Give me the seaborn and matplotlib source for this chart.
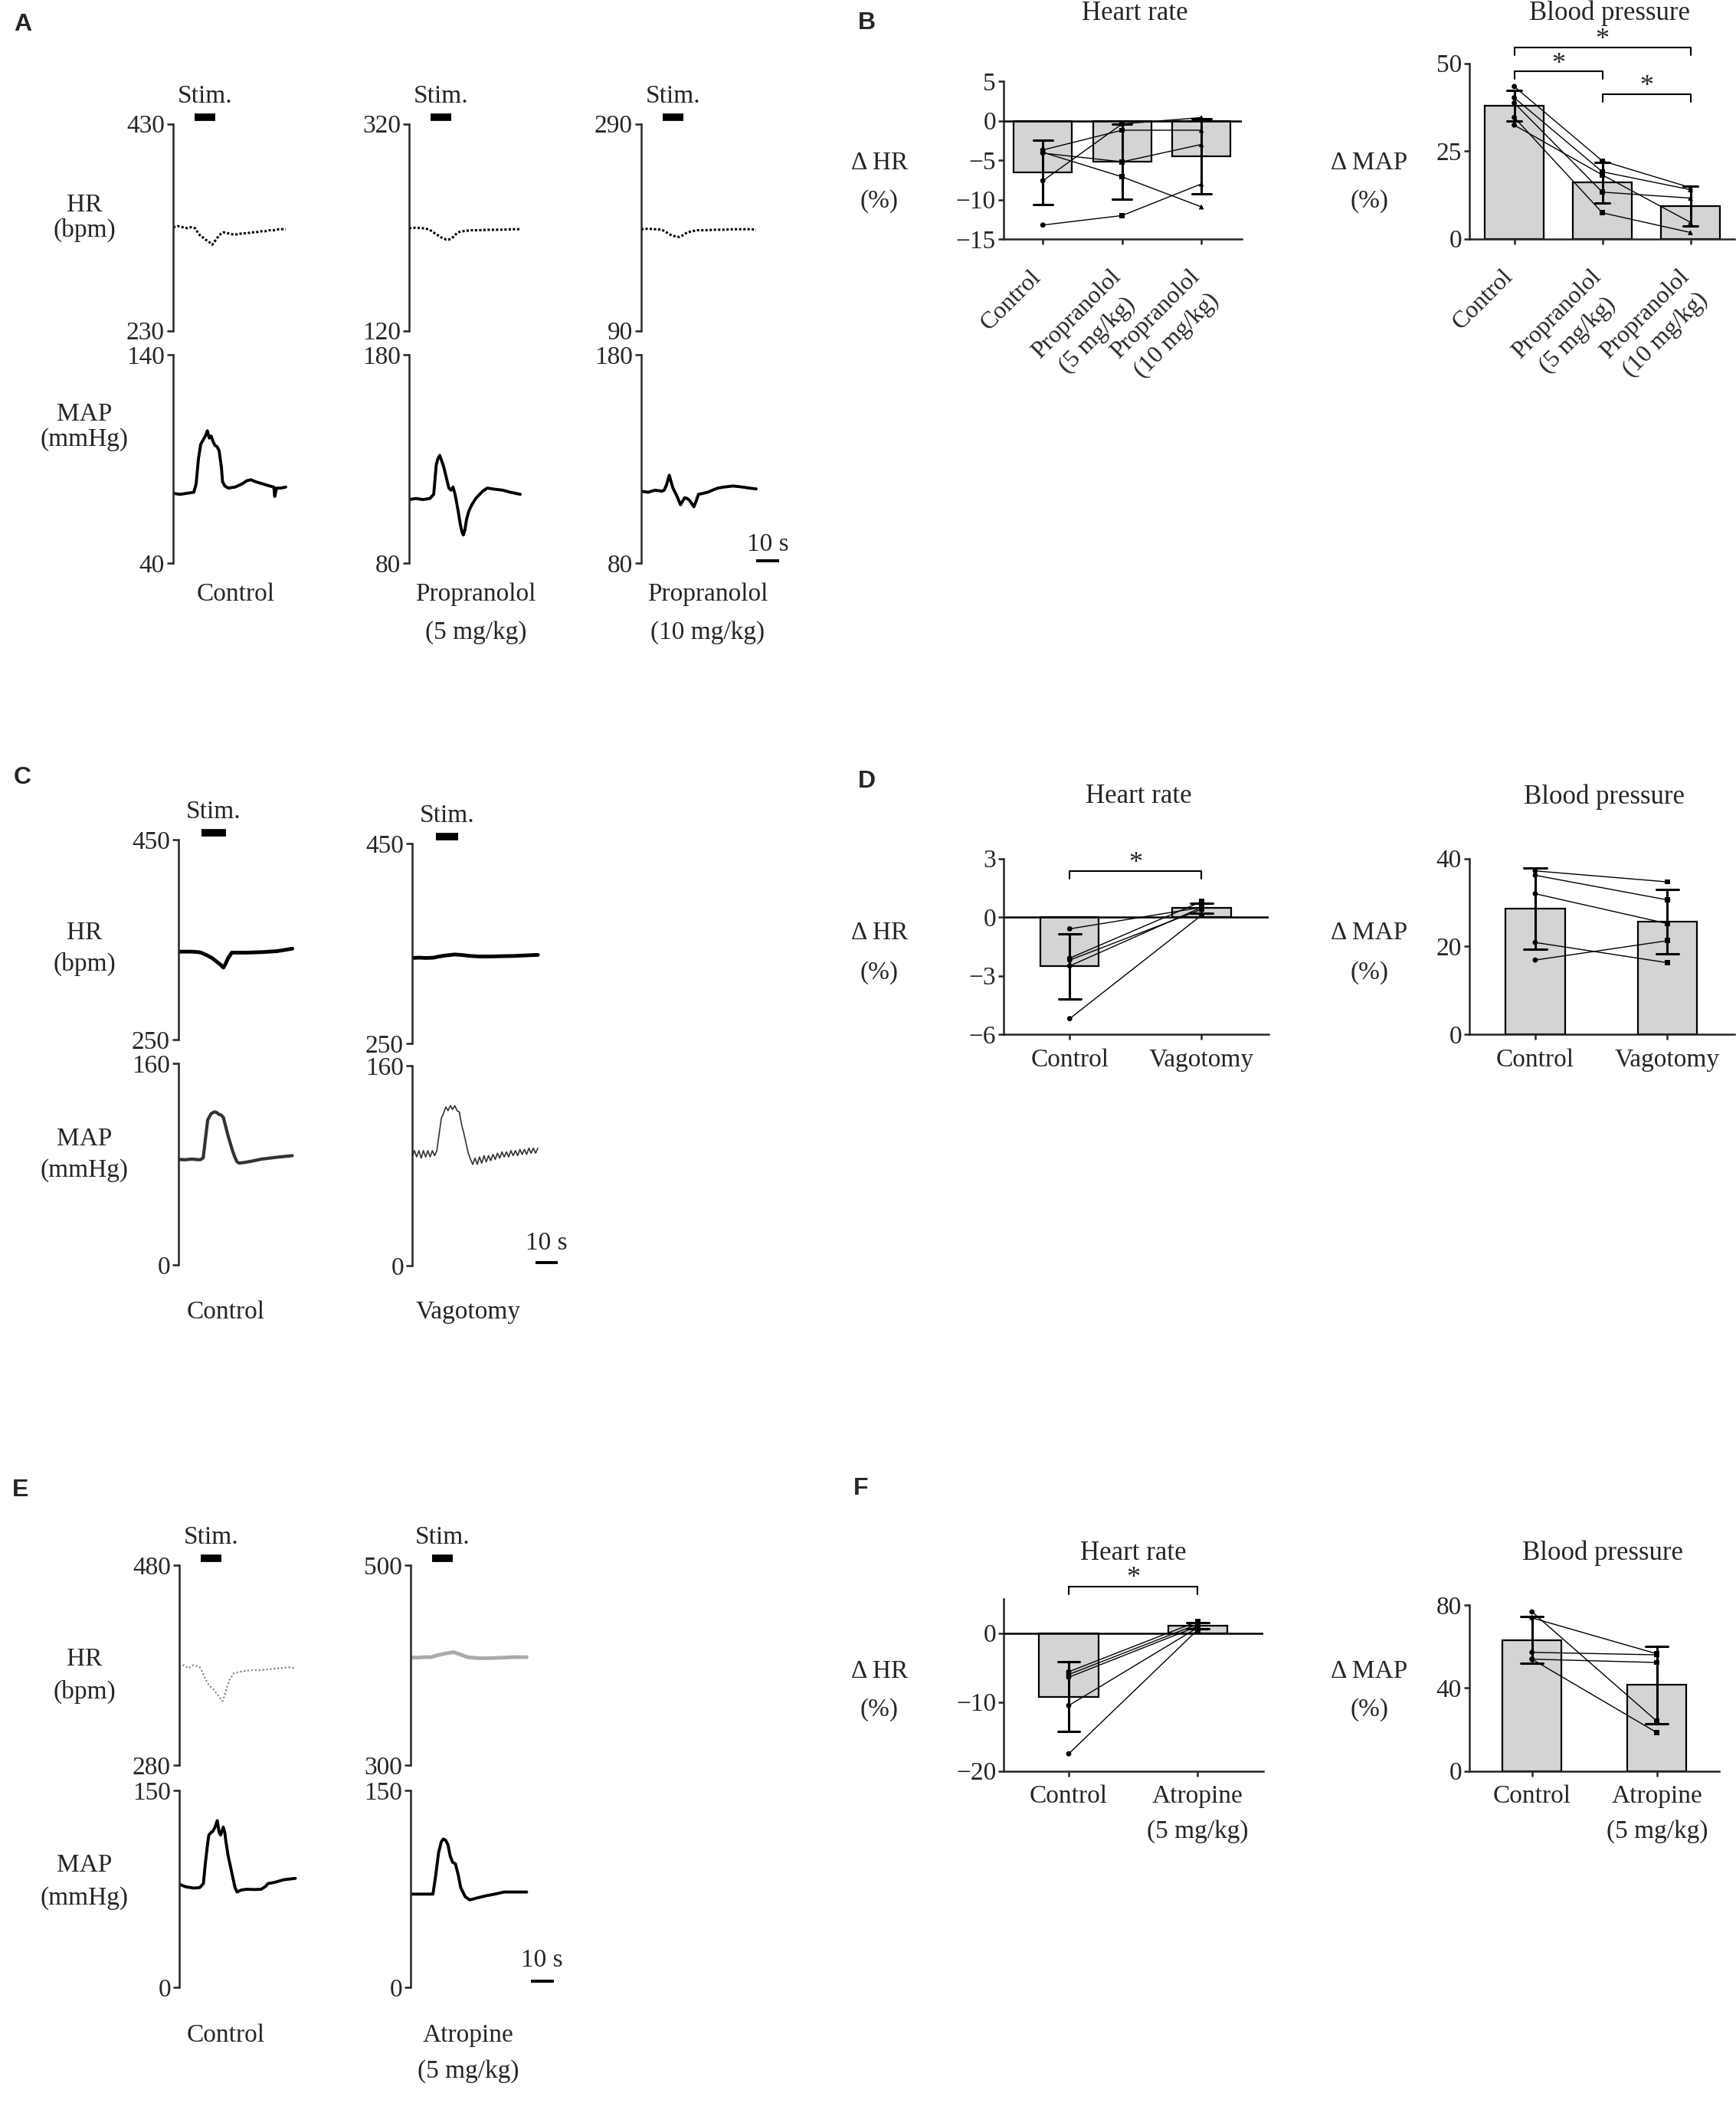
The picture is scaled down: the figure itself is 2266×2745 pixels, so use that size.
import matplotlib
matplotlib.use("Agg")
import matplotlib.pyplot as plt
import seaborn as sns
import pandas as pd

W, H = 2266, 2745

# ---------------- trace data (time in s) ----------------
# A: control
A_CTRL_HR_T = [0, 2, 4, 6, 8, 9.5, 11, 12, 13, 14, 15, 16, 17, 18, 19, 20, 21, 22, 24, 26, 28,
               30, 32, 34, 36, 38, 40, 42, 44, 46, 48, 49]
A_CTRL_HR = [330, 331, 330, 329, 330, 329, 324, 321, 320, 318, 317, 315, 313, 316, 319, 322, 324,
             325, 324, 323, 323, 324, 324, 325, 325, 326, 326, 327, 327, 328, 328, 328]
A_CTRL_MAP_T = [0, 3, 6, 9, 10, 11, 12, 13, 14, 14.9, 15.7, 16.5, 17.5, 18.2, 19, 20, 21, 21.5,
                22.5, 24, 27, 30, 32, 33.8, 36, 39, 42, 43.8, 44.2, 45, 47, 49]
A_CTRL_MAP = [73.5, 73, 73.5, 74, 78, 90, 97, 99, 101, 103.5, 100, 101, 98, 96.5, 96, 94, 86, 79,
              77, 76, 76.5, 78, 79.5, 80, 79, 78, 77, 76.5, 72, 76, 76, 76.5]
# A: propranolol 5 mg/kg
A_P5_HR_T = [0, 3, 6, 8.4, 10, 11.8, 13, 14, 15, 16.2, 17.3, 18.4, 19.5, 20.7, 22, 23, 25, 27, 30,
             35, 40, 45, 48.4]
A_P5_HR = [219, 219.5, 219, 218, 216, 213, 211.5, 210, 209, 208, 208, 209, 211, 214, 215.5, 216,
           216.5, 217, 217, 217.5, 217.5, 218, 218]
A_P5_MAP_T = [0, 3, 6, 9, 10.7, 11.8, 12.5, 13.3, 14.2, 15.1, 16.2, 17.3, 18.2, 19.1, 20, 20.7,
              21.5, 22.2, 23, 23.6, 24.3, 25, 26, 27.3, 29, 30.7, 32, 34, 37, 40.7, 44, 48.4]
A_P5_MAP = [110.5, 111, 110.5, 111, 113, 127, 130, 131.7, 129, 126, 121, 116, 115, 116.5, 113, 109,
            104, 99, 95, 93.5, 96, 101, 105, 108, 111, 113, 114.5, 116, 115.5, 115, 114, 113]
# A: propranolol 10 mg/kg
A_P10_HR_T = [0, 3, 6, 9, 11, 12, 13.3, 15, 16.7, 18, 20, 22, 24.4, 28, 32, 36, 40, 44, 48, 50]
A_P10_HR = [188, 188.5, 188, 187.5, 185, 183.5, 182, 181, 180.5, 182, 185, 186, 187, 187, 187.5,
            187.5, 188, 188, 188, 187.5]
A_P10_MAP_T = [0, 3, 6, 9, 10, 11, 12.2, 13, 13.8, 15.6, 17.1, 18.9, 20, 21.1, 22, 22.9, 24, 24.9,
               27, 28.9, 31, 33.3, 36, 40, 44, 47, 50]
A_P10_MAP = [114.5, 114, 115, 114.5, 115, 117.5, 122.2, 119, 116, 112, 108, 111.4, 111, 110, 108.5,
             107, 110, 113, 113.5, 114, 115, 116, 116.5, 117, 116.5, 116, 115.6]

# C: control and vagotomy
C_CTRL_HR_T = [0, 3, 6, 9, 10, 11, 13, 15, 17, 18.7, 20, 21, 22, 23.7, 26, 30, 37, 44, 50.7]
C_CTRL_HR = [338, 338, 338, 337.5, 337, 336, 334, 331.5, 328, 325, 322, 326, 331, 337, 337, 337,
             337.5, 338.5, 341]
C_CTRL_MAP_T = [0, 3, 6, 9, 10, 11, 12, 13, 14.5, 16, 17, 18, 19, 20, 21, 22, 23, 24, 25, 26, 27,
                30, 33, 37, 44, 50.7]
C_CTRL_MAP = [83.7, 83.5, 84, 83.5, 83.7, 85, 100, 115, 120, 121.5, 121, 119.5, 119, 117, 110, 103,
              97, 91, 86, 82, 80.8, 81.5, 82.5, 84, 85.5, 86.7]
C_VAG_HR_T = [0, 3, 6, 9, 10, 12, 15, 19, 22, 26, 30, 35, 40, 45, 50, 56]
C_VAG_HR = [335.5, 335.8, 335.5, 335.7, 336, 337, 338, 339, 338.5, 337.5, 337, 337, 337.3, 337.5,
            338, 338.6]
C_VAG_MAP_T = list(range(57))
C_VAG_MAP = [87, 92, 87, 92, 86, 92, 87, 92, 87, 92, 88, 92, 105, 118, 122, 127, 124, 128, 125,
             128, 124, 123, 113, 106, 98, 90, 85, 81, 86, 81, 87, 82, 88, 83, 88, 84, 89, 85, 90,
             86, 91, 87, 91, 87, 92, 88, 92, 88, 93, 89, 93, 89, 94, 90, 94, 90, 94]

# E: control and atropine
E_CTRL_HR_T = [0, 2, 4, 6, 8, 9, 10, 11.5, 13, 14, 15, 16, 17, 18, 19, 20, 21, 22, 24, 26, 28,
               32, 36, 40, 44, 48, 51]
E_CTRL_HR = [378, 380, 377, 380, 379, 378, 374, 366, 360, 358, 356, 353, 350, 347, 344, 350, 358,
             365, 372, 373, 374, 375, 375, 376, 377, 378, 377]
E_CTRL_MAP_T = [0, 3, 6.5, 9, 10.6, 11.5, 12.5, 13, 14, 14.8, 15.7, 16.7, 17.5, 18.2, 19.3, 20,
                20.5, 21.5, 23, 24.5, 25.4, 27, 29.5, 33, 36, 38, 39, 42, 46, 51]
E_CTRL_MAP = [78.5, 76.5, 75.6, 76, 79, 95, 110, 116, 118, 119, 122, 127, 118, 116, 122, 118, 111,
              100, 88, 76, 72.6, 74, 74.7, 74.5, 74.7, 77, 79, 80, 82, 83]
E_ATR_HR_T = [0, 3, 6, 9, 12, 16, 19, 22, 25, 30, 35, 40, 45, 51]
E_ATR_HR = [407.8, 407.5, 408, 408, 410, 412, 413, 410.5, 408, 407, 407, 407.5, 408, 408]
E_ATR_MAP_T = [0, 5, 9.8, 11, 12.3, 13.5, 14.4, 15.4, 16.4, 17.4, 18.4, 19.7, 21, 22, 24, 26, 29,
               33, 37, 41, 46, 51]
E_ATR_MAP = [71, 71, 71, 85, 102.8, 111, 113, 112, 108.7, 100, 95.4, 94, 85, 76, 69, 66.6, 68,
             69.7, 71, 72.6, 72.6, 72.6]

# ---------------- summary data (% change per animal) ----------------
B_GROUPS = ["Control", "Propranolol 5", "Propranolol 10"]
B_LABELS = ["Control", "Propranolol\n(5 mg/kg)", "Propranolol\n(10 mg/kg)"]
B_HR_CTRL = [-13.2, -7.6, -3.7, -4.1, -4.0]
B_HR_P5 = [-12.0, -0.4, -1.2, -5.2, -7.1]
B_HR_P10 = [-8.0, 0.4, -1.2, -3.0, -10.9]
B_MAP_CTRL = [43.4, 40.2, 38.7, 34.6, 32.4]
B_MAP_P5 = [22.2, 19.1, 13.3, 7.4, 18.2]
B_MAP_P10 = [14.6, 14.0, 11.6, 1.8, 4.7]

D_GROUPS = ["Control", "Vagotomy"]
D_HR_CTRL = [-0.6, -2.1, -2.2, -2.5, -5.2]
D_HR_VAG = [0.5, 0.8, 0.4, 0.5, 0.1]
D_MAP_CTRL = [37.2, 36.2, 32.0, 20.9, 16.9]
D_MAP_VAG = [34.7, 30.6, 25.2, 16.3, 21.3]

F_GROUPS = ["Control", "Atropine"]
F_LABELS = ["Control", "Atropine\n(5 mg/kg)"]
F_HR_CTRL = [-5.6, -6.0, -6.4, -10.5, -17.5]
F_HR_ATR = [1.7, 1.3, 1.0, 0.8, 0.5]
F_MAP_CTRL = [76.7, 73.8, 57.2, 53.9, 53.9]
F_MAP_ATR = [24.0, 56.5, 56.0, 52.3, 18.5]

FS = 24  # main text size

sns.set_style("ticks")
plt.rcParams["font.family"] = ["Liberation Serif", "DejaVu Serif"]
plt.rcParams["font.size"] = FS
plt.rcParams["axes.linewidth"] = 1.8
plt.rcParams["xtick.major.width"] = 1.8
plt.rcParams["ytick.major.width"] = 1.8

fig = plt.figure(figsize=(W / 100, H / 100), dpi=100)


def px_axes(x0, y0, x1, y1):
    return fig.add_axes([x0 / W, 1 - y1 / H, (x1 - x0) / W, (y1 - y0) / H])


def ftext(x, y, s, **kw):
    kw.setdefault("fontsize", FS)
    fig.text(x / W, 1 - y / H, s, ha="center", va="center", **kw)


def letter(x, y, s):
    fig.text(x / W, 1 - y / H, s, ha="center", va="center", fontsize=23,
             fontweight="bold", family="Liberation Sans")


def trace_ax(x, y0, y1, lo, hi, pps, stim=None):
    ax = px_axes(x, y0, x + 60 * pps, y1)
    ax.set_xlim(0, 60)
    ax.set_ylim(lo, hi)
    sns.despine(ax=ax, bottom=True)
    ax.set_xticks([])
    ax.set_yticks([lo, hi])
    ax.tick_params(axis="y", length=6, labelsize=FS, pad=2)
    ax.patch.set_alpha(0)
    if stim is not None:
        hpx = y1 - y0
        tr = ax.get_xaxis_transform()
        ax.plot(stim, [1 + 9 / hpx] * 2, transform=tr, color="black", lw=7,
                solid_capstyle="butt", clip_on=False)
        ax.text(sum(stim) / 2, 1 + 36 / hpx, "Stim.", transform=tr, ha="center",
                va="center", fontsize=FS)
    return ax


def trace(ax, t, v, **kw):
    sns.lineplot(x=t, y=v, ax=ax, estimator=None, sort=False, legend=False, **kw)
    ax.set_xlabel("")
    ax.set_ylabel("")


def scale_bar(ax, x0, y_bar, y_txt):
    ax.plot([x0, x0 + 10], [y_bar, y_bar], color="black", lw=2.8, clip_on=False,
            solid_capstyle="butt")
    ax.text(x0 + 5, y_txt, "10 s", ha="center", va="center", fontsize=FS)


# ---------------- panel A ----------------
letter(30, 32, "A")
A_HR_Y, A_MAP_Y = (161.5, 431.5), (463, 735)
for x, t_hr, hr, t_map, mp, hrlim, maplim in [
        (226, A_CTRL_HR_T, A_CTRL_HR, A_CTRL_MAP_T, A_CTRL_MAP, (230, 430), (40, 140)),
        (534, A_P5_HR_T, A_P5_HR, A_P5_MAP_T, A_P5_MAP, (120, 320), (80, 180)),
        (837, A_P10_HR_T, A_P10_HR, A_P10_MAP_T, A_P10_MAP, (90, 290), (80, 180))]:
    ax = trace_ax(x, *A_HR_Y, *hrlim, 3.0, stim=(9.3, 18.3))
    trace(ax, t_hr, hr, color="black", lw=2.2, linestyle=(0, (1, 0.8)))
    axm = trace_ax(x, *A_MAP_Y, *maplim, 3.0)
    trace(axm, t_map, mp, color="black", lw=2.8)
scale_bar(axm, 50, 81, 89)
ftext(110, 268, "HR")
ftext(110, 300, "(bpm)")
ftext(110, 541, "MAP")
ftext(110, 574, "(mmHg)")
ftext(308, 776, "Control")
ftext(621, 776, "Propranolol")
ftext(621, 826, "(5 mg/kg)")
ftext(924, 776, "Propranolol")
ftext(924, 826, "(10 mg/kg)")

# ---------------- panel C ----------------
letter(29, 1015, "C")
ax = trace_ax(233, 1096, 1357, 250, 450, 2.93, stim=(10.3, 21.0))
trace(ax, C_CTRL_HR_T, C_CTRL_HR, color="black", lw=3.5)
ax = trace_ax(233, 1388, 1651, 0, 160, 2.93)
trace(ax, C_CTRL_MAP_T, C_CTRL_MAP, color="#333333", lw=3)
ax = trace_ax(538, 1101, 1362, 250, 450, 2.93, stim=(10.5, 20.5))
trace(ax, C_VAG_HR_T, C_VAG_HR, color="black", lw=3.5)
ax = trace_ax(538, 1391, 1652, 0, 160, 2.93)
trace(ax, C_VAG_MAP_T, C_VAG_MAP, color="#333333", lw=1.2)
scale_bar(ax, 55, 2.5, 17.8)
ftext(110, 1218, "HR")
ftext(110, 1258, "(bpm)")
ftext(110, 1487, "MAP")
ftext(110, 1528, "(mmHg)")
ftext(295, 1713, "Control")
ftext(611, 1713, "Vagotomy")

# ---------------- panel E ----------------
letter(27, 1945, "E")
ax = trace_ax(234, 2043, 2304, 280, 480, 2.97, stim=(9.3, 18.5))
trace(ax, E_CTRL_HR_T, E_CTRL_HR, color="#888888", lw=1.6, linestyle=(0, (1, 1.2)))
ax = trace_ax(234, 2337, 2594, 0, 150, 2.97)
trace(ax, E_CTRL_MAP_T, E_CTRL_MAP, color="black", lw=2.8)
ax = trace_ax(536, 2043, 2304, 300, 500, 2.97, stim=(9.3, 18.4))
trace(ax, E_ATR_HR_T, E_ATR_HR, color="#aaaaaa", lw=3.5)
ax = trace_ax(536, 2337, 2594, 0, 150, 2.97)
trace(ax, E_ATR_MAP_T, E_ATR_MAP, color="black", lw=2.8)
scale_bar(ax, 52.8, 4.7, 20.4)
ftext(110, 2166, "HR")
ftext(110, 2208, "(bpm)")
ftext(110, 2435, "MAP")
ftext(110, 2478, "(mmHg)")
ftext(295, 2657, "Control")
ftext(611, 2657, "Atropine")
ftext(611, 2704, "(5 mg/kg)")


# ---------------- bar panels ----------------
MARKERS = {"Control": "o", "Propranolol 5": "s", "Propranolol 10": "^",
           "Vagotomy": "s", "Atropine": "s"}


def bar_panel(box, groups, labels, values, width, capsize, ylim, yticks, xlim,
              rotate=False, zero=False):
    ax = px_axes(*box)
    rows = []
    for gi, (g, vals) in enumerate(zip(groups, values)):
        for si, v in enumerate(vals):
            rows.append({"group": g, "pos": gi, "subject": si, "value": v})
    df = pd.DataFrame(rows)
    sns.barplot(data=df, x="group", y="value", order=groups, errorbar="sd", width=width,
                capsize=capsize, color="#d4d4d4", saturation=1, edgecolor="black",
                linewidth=1.6, err_kws={"color": "black", "linewidth": 2.2}, ax=ax)
    sns.lineplot(data=df, x="pos", y="value", units="subject", estimator=None, sort=False,
                 color="black", lw=1.0, legend=False, ax=ax)
    sns.scatterplot(data=df, x="pos", y="value", style="group",
                    markers={g: MARKERS[g] for g in groups}, color="black", s=24,
                    linewidth=0, legend=False, zorder=5, ax=ax)
    if zero:
        ax.axhline(0, color="black", lw=1.8, zorder=4)
    ax.set_xlim(*xlim)
    ax.set_ylim(*ylim)
    ax.set_yticks(yticks)
    ax.set_xticks(range(len(groups)))
    sns.despine(ax=ax)
    ax.set_xlabel("")
    ax.set_ylabel("")
    ax.tick_params(axis="y", length=5, labelsize=FS, pad=2)
    ax.tick_params(axis="x", length=5, labelsize=FS, pad=8)
    if rotate:
        # slanted category names, anchored a little left of and below each tick
        ax.set_xticklabels([])
        for i, lab in enumerate(labels):
            ax.annotate(lab, xy=(i, 0), xycoords=ax.get_xaxis_transform(),
                        xytext=(-12, -25), textcoords="offset points", rotation=45,
                        rotation_mode="anchor", ha="right", va="top",
                        multialignment="center", linespacing=1.45, fontsize=23)
    else:
        ax.set_xticklabels(labels, linespacing=1.65)
    ax.patch.set_alpha(0)
    return ax


def bracket(ax, x0, x1, y, tip, star):
    ax.plot([x0, x0, x1, x1], [tip, y, y, tip], color="black", lw=1.5, clip_on=False)
    ax.text((x0 + x1) / 2, star, "*", ha="center", va="center", fontsize=26)


# B
letter(1131, 30, "B")
bar_panel((1309.6, 106, 1621.2, 312.3), B_GROUPS, B_LABELS, [B_HR_CTRL, B_HR_P5, B_HR_P10],
          0.736, 0.24, (-15, 5), [-15, -10, -5, 0, 5], (-0.499, 2.513), rotate=True, zero=True)
ax = bar_panel((1917.7, 82.7, 2264, 311.7), B_GROUPS, B_LABELS,
               [B_MAP_CTRL, B_MAP_P5, B_MAP_P10], 0.673, 0.17, (0, 50), [0, 25, 50],
               (-0.512, 2.5), rotate=True)
bracket(ax, 0, 2, 54.6, 52.4, 56.6)
bracket(ax, 0, 1, 47.7, 45.5, 49.7)
bracket(ax, 1, 2, 41.3, 39.1, 43.3)
ftext(1481, 17, "Heart rate", fontsize=25)
ftext(2101, 17, "Blood pressure", fontsize=25)
ftext(1148, 213, "Δ HR")
ftext(1148, 263, "(%)")
ftext(1787, 213, "Δ MAP")
ftext(1787, 263, "(%)")

# D
letter(1131, 1020, "D")
ax = bar_panel((1309.6, 1120.7, 1655.8, 1350), D_GROUPS, D_GROUPS, [D_HR_CTRL, D_HR_VAG],
               0.442, 0.167, (-6, 3), [-6, -3, 0, 3], (-0.503, 1.507), zero=True)
bracket(ax, 0, 1, 2.37, 1.98, 2.75)
bar_panel((1917.7, 1120.7, 2264, 1350), D_GROUPS, D_GROUPS, [D_MAP_CTRL, D_MAP_VAG],
          0.448, 0.17, (0, 40), [0, 20, 40], (-0.5, 1.508))
ftext(1486, 1040, "Heart rate", fontsize=25)
ftext(2094, 1040, "Blood pressure", fontsize=25)
ftext(1148, 1218, "Δ HR")
ftext(1148, 1270, "(%)")
ftext(1787, 1218, "Δ MAP")
ftext(1787, 1270, "(%)")

# F
letter(1124, 1943, "F")
ax = bar_panel((1310.4, 2086.7, 1649.2, 2311.7), F_GROUPS, F_LABELS, [F_HR_CTRL, F_HR_ATR],
               0.461, 0.17, (-20, 5), [-20, -10, 0], (-0.502, 1.509), zero=True)
bracket(ax, 0, 1, 6.77, 5.65, 7.9)
bar_panel((1917.7, 2095, 2244.3, 2311.7), F_GROUPS, F_LABELS, [F_MAP_CTRL, F_MAP_ATR],
          0.472, 0.18, (0, 80), [0, 40, 80], (-0.503, 1.5))
ftext(1479, 2027, "Heart rate", fontsize=25)
ftext(2092, 2027, "Blood pressure", fontsize=25)
ftext(1148, 2182, "Δ HR")
ftext(1148, 2232, "(%)")
ftext(1787, 2182, "Δ MAP")
ftext(1787, 2232, "(%)")

fig.savefig("out.png", dpi=100)
